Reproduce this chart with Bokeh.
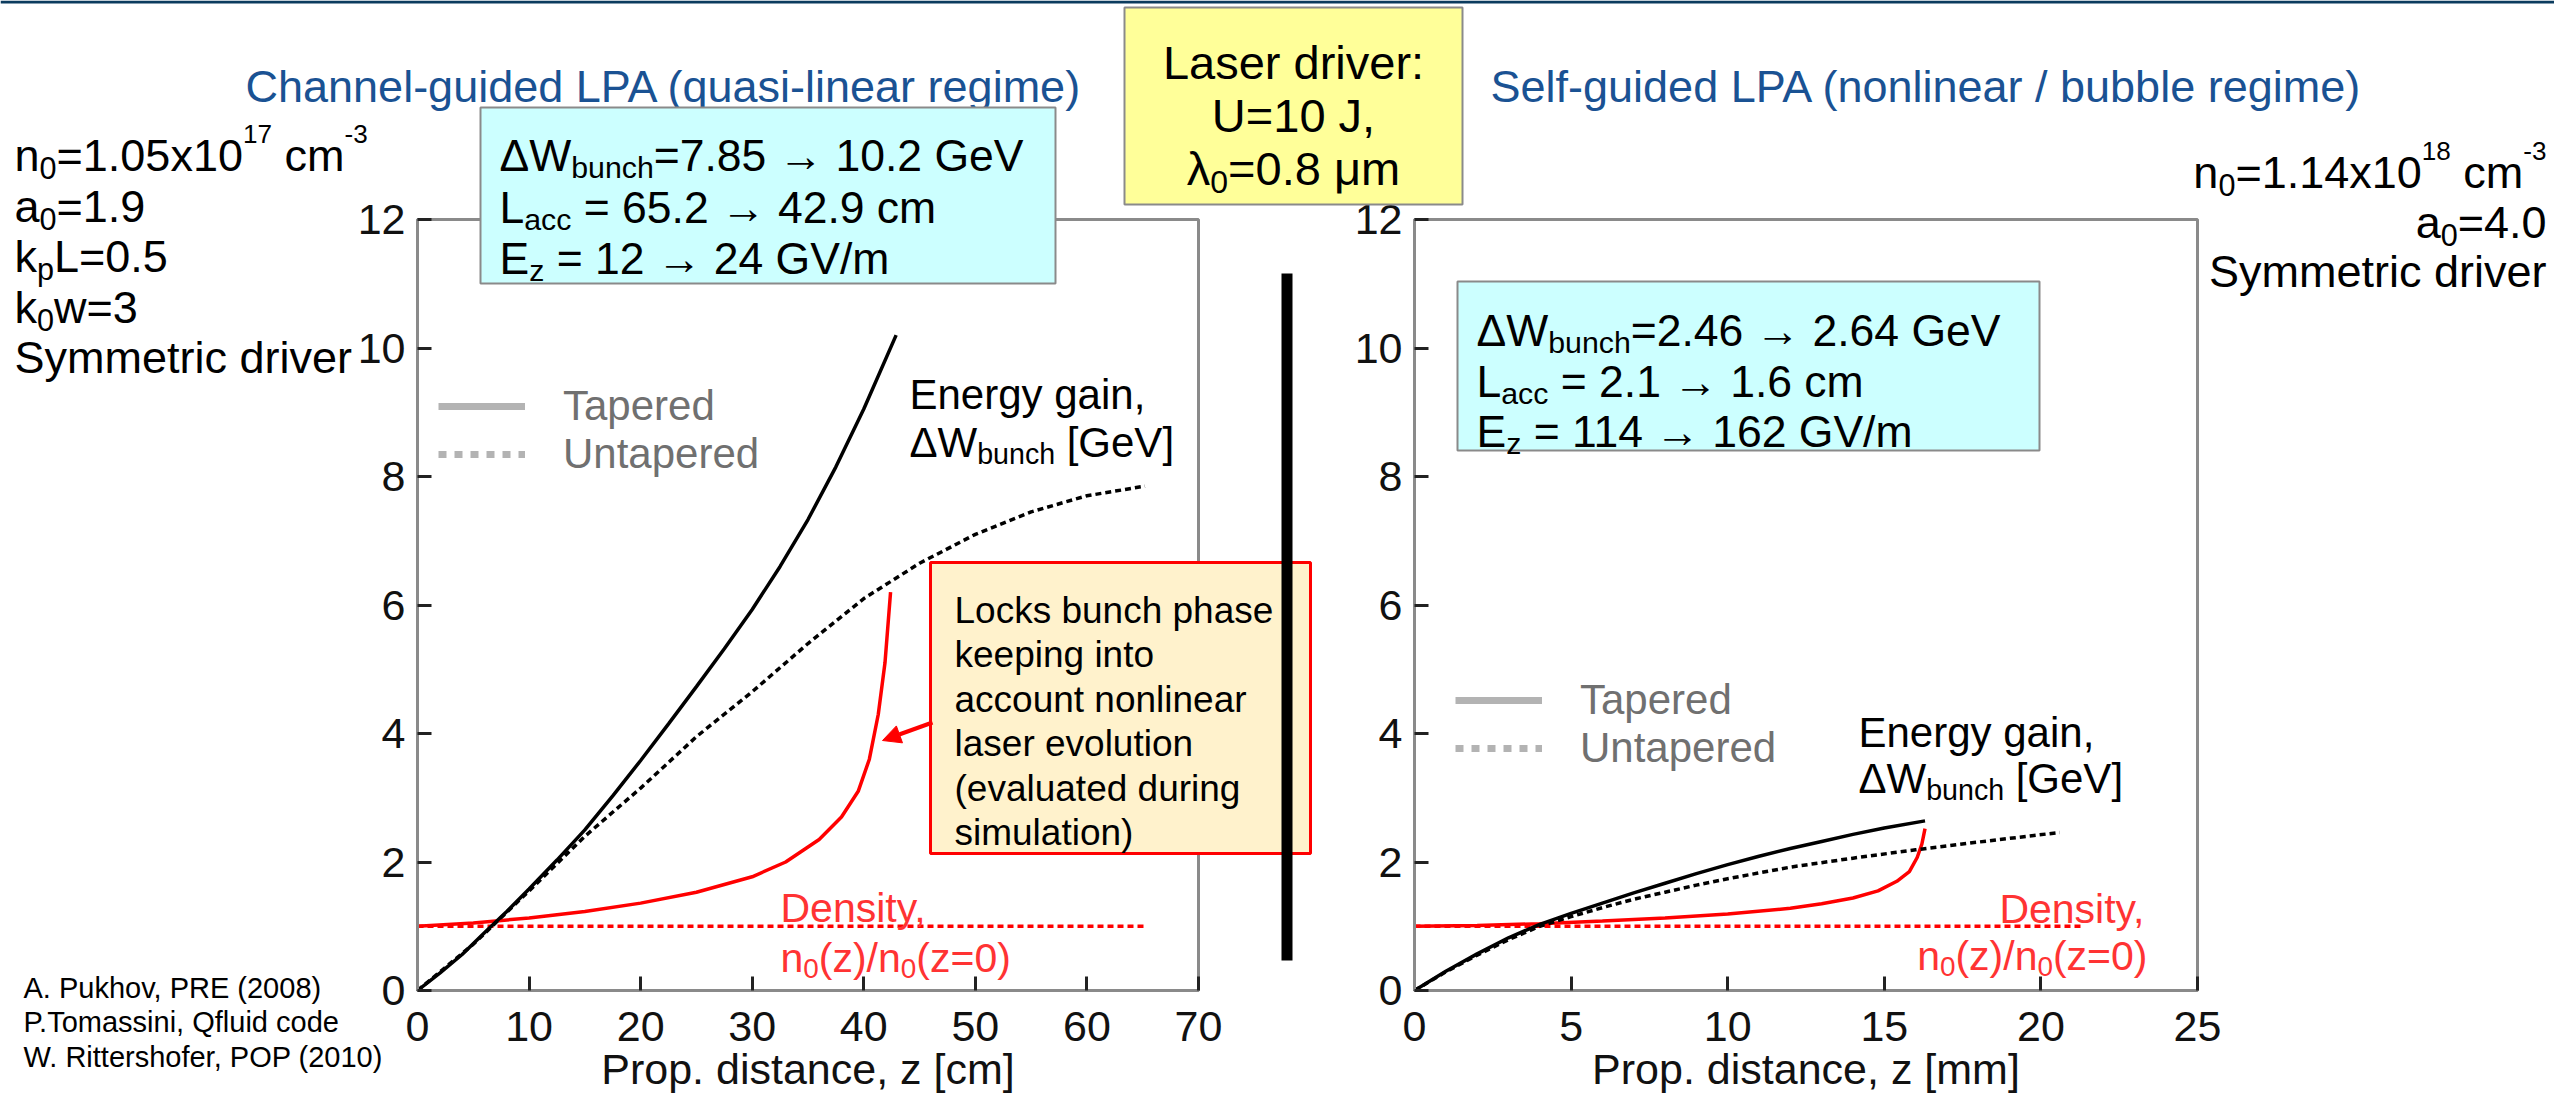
import re
from bokeh.plotting import figure
from bokeh.layouts import row
from bokeh.models import (Range1d, FixedTicker, Label, BoxAnnotation, Arrow,
                          NormalHead, Legend, LegendItem)
from bokeh.embed import file_html
from bokeh.resources import INLINE

# ---------------- data ----------------
# Channel-guided LPA (quasi-linear regime), z in cm
ch_taper_z = [0, 2, 4, 6, 8, 10, 12.5, 15, 17.5, 20, 22.5, 25, 27.5, 30, 32.5, 35, 37.5, 40, 42.9]
ch_taper_w = [0, 0.27, 0.56, 0.9, 1.23, 1.58, 2.03, 2.5, 3.03, 3.58, 4.15, 4.73, 5.32, 5.93, 6.6, 7.33, 8.15, 9.05, 10.2]
ch_untap_z = [0, 5, 10, 15, 20, 25, 30, 35, 40, 45, 50, 55, 60, 65.2]
ch_untap_w = [0, 0.72, 1.55, 2.4, 3.15, 3.95, 4.65, 5.4, 6.1, 6.65, 7.1, 7.45, 7.7, 7.85]
ch_dens_z = [0, 5, 10, 15, 20, 25, 30, 33, 36, 38, 39.5, 40.5, 41.3, 41.9, 42.4]
ch_dens_n = [1.0, 1.05, 1.13, 1.23, 1.36, 1.53, 1.77, 2.0, 2.35, 2.7, 3.1, 3.6, 4.3, 5.1, 6.2]
ch_flat_z = [0, 65.2]
ch_flat_n = [1.0, 1.0]

# Self-guided LPA (nonlinear / bubble regime), z in mm
sg_taper_z = [0, 1, 2, 3, 4, 5, 6, 7, 8, 9, 10, 11, 12, 13, 14, 15, 16.3]
sg_taper_w = [0, 0.3, 0.57, 0.82, 1.03, 1.2, 1.36, 1.52, 1.67, 1.82, 1.96, 2.09, 2.21, 2.32, 2.43, 2.53, 2.64]
sg_untap_z = [0, 1, 2, 3, 4, 5, 6, 7, 8, 9, 10, 12, 14, 16, 18, 20.6]
sg_untap_w = [0, 0.29, 0.55, 0.79, 1.0, 1.15, 1.29, 1.42, 1.53, 1.64, 1.74, 1.92, 2.06, 2.19, 2.31, 2.46]
sg_dens_z = [0, 2, 4, 6, 8, 10, 12, 13, 14, 14.8, 15.4, 15.8, 16.05, 16.2, 16.3]
sg_dens_n = [1.0, 1.01, 1.04, 1.08, 1.13, 1.19, 1.28, 1.35, 1.44, 1.55, 1.7, 1.85, 2.07, 2.28, 2.52]
sg_flat_z = [0, 21.3]
sg_flat_n = [1.0, 1.0]

ch_ticks = [0, 10, 20, 30, 40, 50, 60, 70]
sg_ticks = [0, 5, 10, 15, 20, 25]
w_ticks = [0, 2, 4, 6, 8, 10, 12]

# ---------------- page geometry (px) ----------------
PAGE_W, H = 2554, 1095
TOP, BOT = 219, 990
P1_W, P1_L, P1_R = 1320, 417, 1198
P2_X0, P2_W, P2_L, P2_R = 1120, 1434, 1414, 2197

FONT = "Liberation Sans"
GREY = "#8a8a8a"
BLUE = "#1a5293"
RED_TXT = "#ff3333"
LW = 3.5

# Arial / Liberation Sans advance widths (1/1000 em)
AW = {}
for chars, w in [(" !,./:;[]ftI", 278), ("ijl", 222), ("()-r", 333),
                 ("ckJsvxyz", 500), ("0123456789abdeghnopquL", 556), ("=+", 584),
                 ("FTZ", 611), ("ABEKPSVXY", 667), ("CDHNRUw", 722), ("GOQ", 778),
                 ("mM", 833), ("W", 944), ("\u2192", 1000), ("\u0394", 668),
                 ("\u03bb", 500), ("\u03bc", 577)]:
    for c in chars:
        AW[c] = w


def text_width(s, size):
    return sum(AW.get(c, 556) for c in s) * size / 1000.0


def make_plot(width, xmax, xticks, left, right, x_label):
    p = figure(width=width, height=H, x_range=Range1d(0, xmax), y_range=Range1d(0, 12),
               output_backend="svg", toolbar_location=None,
               min_border_left=left, min_border_right=right,
               min_border_top=TOP, min_border_bottom=H - BOT)
    p.grid.visible = False
    p.outline_line_color = GREY
    p.outline_line_width = 3
    p.background_fill_color = "white"
    for ax in (p.xaxis[0], p.yaxis[0]):
        ax.axis_line_color = GREY
        ax.axis_line_width = 3
        ax.major_tick_line_color = "#222222"
        ax.major_tick_line_width = 3
        ax.major_tick_in = 14
        ax.major_tick_out = 0
        ax.minor_tick_line_color = None
        ax.major_label_text_font = FONT
        ax.major_label_text_font_size = "43px"
        ax.major_label_text_color = "#111111"
    p.xaxis.ticker = FixedTicker(ticks=xticks)
    p.yaxis.ticker = FixedTicker(ticks=w_ticks)
    p.xaxis.major_label_standoff = 21
    p.yaxis.major_label_standoff = 12
    p.xaxis.axis_label = x_label
    p.xaxis.axis_label_text_font = FONT
    p.xaxis.axis_label_text_font_size = "43px"
    p.xaxis.axis_label_text_font_style = "normal"
    p.xaxis.axis_label_text_color = "#111111"
    p.xaxis.axis_label_standoff = 1
    return p


def add_legend(p, loc):
    nan = float("nan")
    r_t = p.line(x=[nan], y=[nan], line_color="#b3b3b3", line_width=7)
    r_u = p.line(x=[nan], y=[nan], line_color="#b3b3b3", line_width=7, line_dash="8 8")
    lg = Legend(items=[LegendItem(label="Tapered", renderers=[r_t]),
                       LegendItem(label="Untapered", renderers=[r_u])],
                location=loc, border_line_color=None, background_fill_alpha=0,
                label_text_font=FONT, label_text_font_size="42px",
                label_text_color="#707070", glyph_width=87, glyph_height=20,
                label_standoff=38, padding=0, spacing=0, margin=0)
    p.add_layout(lg)


# ---------------- left panel: channel-guided ----------------
p1 = make_plot(P1_W, 70, ch_ticks, P1_L, P1_W - P1_R, "Prop. distance, z [cm]")
p1.border_fill_color = "white"
p1.line(ch_flat_z, ch_flat_n, line_color="red", line_width=LW, line_dash="6 4")
p1.line(ch_dens_z, ch_dens_n, line_color="red", line_width=LW)
p1.line(ch_untap_z, ch_untap_w, line_color="black", line_width=LW, line_dash="6 4")
p1.line(ch_taper_z, ch_taper_w, line_color="black", line_width=LW)
add_legend(p1, (21, 512))

# ---------------- right panel: self-guided ----------------
p2 = make_plot(P2_W, 25, sg_ticks, P2_L - P2_X0, P2_X0 + P2_W - P2_R, "Prop. distance, z [mm]")
p2.border_fill_alpha = 0
p2.line(sg_flat_z, sg_flat_n, line_color="red", line_width=LW, line_dash="6 4")
p2.line(sg_dens_z, sg_dens_n, line_color="red", line_width=LW)
p2.line(sg_untap_z, sg_untap_w, line_color="black", line_width=LW, line_dash="6 4")
p2.line(sg_taper_z, sg_taper_w, line_color="black", line_width=LW)
add_legend(p2, (41, 218))
p2.margin = (0, 0, 0, -(P1_W - P2_X0))

# ---------------- slide layer: boxes and annotations in page pixels ----------------
deco = figure(width=PAGE_W, height=H, x_range=Range1d(0, PAGE_W), y_range=Range1d(H, 0),
              output_backend="svg", toolbar_location=None, min_border=0,
              x_axis_location=None, y_axis_location=None)
deco.frame_align = False
deco.grid.visible = False
deco.outline_line_color = None
deco.background_fill_alpha = 0
deco.border_fill_alpha = 0
deco.margin = (0, 0, 0, -PAGE_W)


def rich(x, y, markup, size, color="black", align="left"):
    """Lay out text with _{sub} and ^{sup} runs, baseline at page y."""
    runs = []
    for part in re.split(r"(_\{[^}]*\}|\^\{[^}]*\})", markup):
        if not part:
            continue
        if part.startswith("_{"):
            runs.append((part[2:-1], size * 0.68, 0.28 * size))
        elif part.startswith("^{"):
            runs.append((part[2:-1], size * 0.58, -0.47 * size))
        else:
            runs.append((part, size, 0.0))
    total = sum(text_width(t, s) for t, s, _ in runs)
    if align == "right":
        x -= total
    elif align == "center":
        x -= total / 2.0
    for t, s, dy in runs:
        lead = len(t) - len(t.lstrip(" "))
        x += text_width(" " * lead, s)
        core = t.strip(" ")
        if core:
            deco.add_layout(Label(x=x, y=y + dy, text=core, text_font=FONT,
                                  text_font_size=f"{s:.1f}px", text_color=color,
                                  text_baseline="alphabetic", text_align="left"))
        x += text_width(t.lstrip(" "), s)


def box(x0, y0, x1, y1, fill, line=None, lw=2):
    deco.add_layout(BoxAnnotation(left=x0, right=x1, top=y0, bottom=y1,
                                  fill_color=fill, fill_alpha=1.0,
                                  line_color=line, line_alpha=1.0, line_width=lw))


box(0, 0, PAGE_W, 3, "#0b3b5e")
rich(245, 86, "Channel-guided LPA (quasi-linear regime)", 45, BLUE)
rich(1490, 86, "Self-guided LPA (nonlinear / bubble regime)", 45, BLUE)

# operating parameters
for i, t in enumerate(["n_{0}=1.05x10^{17} cm^{-3}", "a_{0}=1.9", "k_{p}L=0.5",
                       "k_{0}w=3", "Symmetric driver"]):
    rich(14, 155 + 50.5 * i, t, 45)
for i, t in enumerate(["n_{0}=1.14x10^{18} cm^{-3}", "a_{0}=4.0", "Symmetric driver"]):
    rich(2546, 172 + 49.5 * i, t, 45, align="right")

# laser driver
box(1124, 7, 1462, 204, "#ffff99", GREY, 2)
for i, t in enumerate(["Laser driver:", "U=10 J,", "\u03bb_{0}=0.8 \u03bcm"]):
    rich(1293, 62 + 53 * i, t, 47, align="center")

# summary boxes, numbers taken from the curve end points
box(480, 107, 1055, 283, "#ccffff", GREY, 2)
ch_lines = [f"\u0394W_{{bunch}}={ch_untap_w[-1]:g} \u2192 {ch_taper_w[-1]:g} GeV",
            f"L_{{acc}} = {ch_untap_z[-1]:g} \u2192 {ch_taper_z[-1]:g} cm",
            "E_{z} = 12 \u2192 24 GV/m"]
for i, t in enumerate(ch_lines):
    rich(499, 155 + 51.5 * i, t, 44.5)

box(1457, 281, 2039, 450, "#ccffff", GREY, 2)
sg_lines = [f"\u0394W_{{bunch}}={sg_untap_w[-1]:g} \u2192 {sg_taper_w[-1]:g} GeV",
            f"L_{{acc}} = {sg_untap_z[-1] / 10:.1f} \u2192 {sg_taper_z[-1] / 10:.1f} cm",
            "E_{z} = 114 \u2192 162 GV/m"]
for i, t in enumerate(sg_lines):
    rich(1476, 330 + 50.5 * i, t, 44.5)

# curve labels
rich(909, 394, "Energy gain,", 42)
rich(909, 442, "\u0394W_{bunch} [GeV]", 42)
rich(780, 907, "Density,", 41, RED_TXT)
rich(780, 957, "n_{0}(z)/n_{0}(z=0)", 41, RED_TXT)
rich(1858, 732, "Energy gain,", 42)
rich(1858, 778, "\u0394W_{bunch} [GeV]", 42)
rich(2147, 908, "Density,", 41, RED_TXT, align="right")
rich(2147, 955, "n_{0}(z)/n_{0}(z=0)", 41, RED_TXT, align="right")

# callout on the tapered density profile
box(930, 562, 1310, 853, "#fff2cc", "#ff0000", 3)
for i, t in enumerate(["Locks bunch phase", "keeping into", "account nonlinear",
                       "laser evolution", "(evaluated during", "simulation)"]):
    rich(954, 610 + 44.4 * i, t, 37)
deco.add_layout(Arrow(end=NormalHead(size=18, fill_color="red", line_color="red"),
                      x_start=932, y_start=722, x_end=882, y_end=740,
                      line_color="red", line_width=4))

# divider between the two regimes
box(1281, 273, 1292, 960, "black")

for i, t in enumerate(["A. Pukhov, PRE (2008)", "P.Tomassini, Qfluid code",
                       "W. Rittershofer, POP (2010)"]):
    rich(23, 987 + 34.5 * i, t, 29)

layout = row(p1, p2, deco, spacing=0)
open("out.html", "w").write(file_html(layout, INLINE, title="LPA energy gain"))
